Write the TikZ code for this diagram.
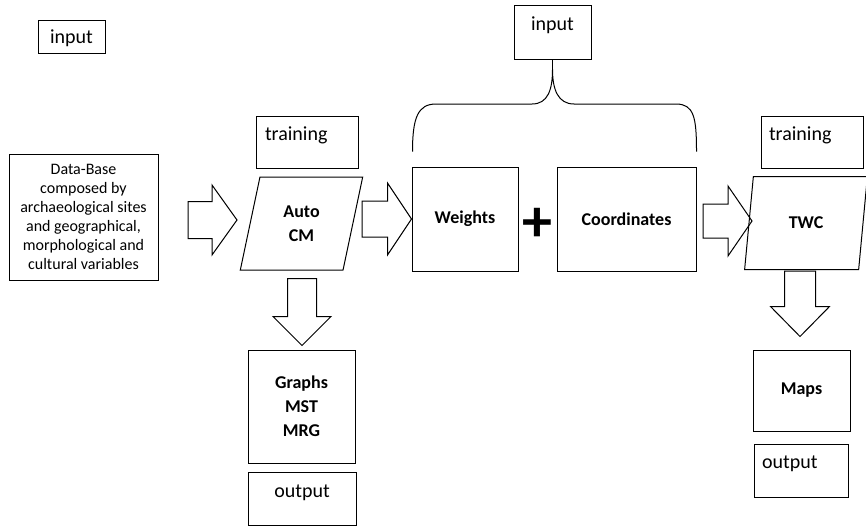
\documentclass[tikz,border=0pt]{standalone}
\usepackage{fontspec}
\setmainfont{Carlito}
\usetikzlibrary{positioning,calc,shapes.geometric}

\begin{document}
\begin{tikzpicture}[
		x=1pt, y=-1pt,
		line width=1pt,
		box/.style = {draw, inner sep=2pt, align=center, font=\bfseries\fontsize{18}{24}\selectfont},
		para/.style = {box, trapezium, trapezium left angle=76.5, trapezium right angle=103.5,
			trapezium stretches=true, minimum width=123pt, minimum height=93pt, inner sep=0pt},
		note/.style = {draw, inner sep=0pt, font=\fontsize{20}{24}\selectfont, text height=24pt, text depth=28pt},
		fat/.style n args = {3}{to path={
				($(\tikztotarget)!#3!(\tikztostart)$) coordinate (hb)
				($(\tikztostart)!#1!90:(hb)$) -- ($(hb)!#1!-90:(\tikztostart)$)
				-- ($(hb)!#2!-90:(\tikztostart)$) -- (\tikztotarget)
				-- ($(hb)!#2!90:(\tikztostart)$) -- ($(hb)!#1!90:(\tikztostart)$)
				-- ($(\tikztostart)!#1!-90:(hb)$) -- cycle}}
	]
	\useasboundingbox (0,0) rectangle (866,527);
	% Main row.
	\node[draw, inner sep=0pt, minimum width=149pt, minimum height=126pt, align=center,
		font=\fontsize{16}{19}\selectfont] (db) at (83.5,217)
		{Data-Base\\composed by\\archaeological sites\\and geographical,\\morphological and\\cultural variables};
	\node[para] (acm) at (301.5,223.5) {Auto\\CM};
	\node[box, minimum width=106pt, minimum height=104pt] (w) at (465,219) {Weights};
	\node[inner sep=0pt, font=\bfseries\fontsize{60}{60}\selectfont] (plus) at (537.5,225) {+};
	\node[box, minimum width=139pt, minimum height=104pt] (co) at (626.5,219) {Coordinates};
	\node[para] (twc) at (806,223) {TWC};
	% Outputs.
	\node[box, minimum width=107pt, minimum height=113pt] (gr) at (301.5,406.5) {Graphs\\MST\\MRG};
	\node[box, minimum width=97pt, minimum height=81pt] (maps) at (801.5,390.5) {Maps};
	% Labels.
	\node[note, minimum width=67pt, text height=23pt, text depth=10pt] (in1) at (71.5,37.5) {input};
	\node[note, minimum width=77pt, text height=25pt] (in2) at (552.5,32.5) {input};
	\node[note, inner xsep=9pt, text width=84pt, align=left] (tr1) at (307,142) {training};
	\node[note, inner xsep=8pt, text width=86pt, align=left] (tr2) at (812,142) {training};
	\node[note, minimum width=108pt, text height=25pt] (out1) at (302,498.5) {output};
	\node[note, inner xsep=8pt, text width=78pt, align=left, text depth=29pt] (out2) at (801,470.5) {output};
	% Block arrows.
	\coordinate (a1s) at (188,220);
	\coordinate (a1e) at (237,220);
	\coordinate (a2s) at (362,219);
	\coordinate (a3s) at (703,221);
	\coordinate (a3e) at (752,221);
	\coordinate (a4s) at ($(acm.south)+(0.5,8)$);
	\coordinate (a4e) at ($(gr.north)+(0.5,-4)$);
	\coordinate (a5s) at (800,271);
	\coordinate (a5e) at ($(maps.north)+(-1.5,-13)$);
	\draw (a1s) to[fat={18.5pt}{35pt}{25pt}] (a1e);
	\draw (a2s) to[fat={18pt}{36pt}{24pt}] (w.west);
	\draw (a3s) to[fat={17pt}{35pt}{24pt}] (a3e);
	\draw (a4s) to[fat={14.5pt}{29pt}{29pt}] (a4e);
	\draw (a5s) to[fat={15.5pt}{29.5pt}{30pt}] (a5e);
	% Brace from the second input.
	\coordinate (bl) at ($(w.north west)+(1,-15)$);
	\coordinate (br) at ($(co.north east)+(0,-15)$);
	\draw (in2.south) -- ++(0,10) coordinate (cusp);
	\draw (bl) .. controls +(0,-34) and +(-18,0) .. (436,104) -- (532,104)
		.. controls +(16,0) and +(0,20) .. (cusp)
		.. controls +(0,20) and +(-16,0) .. (574,104) -- (676,104)
		.. controls +(18,0) and +(0,-34) .. (br);
\end{tikzpicture}
\end{document}
